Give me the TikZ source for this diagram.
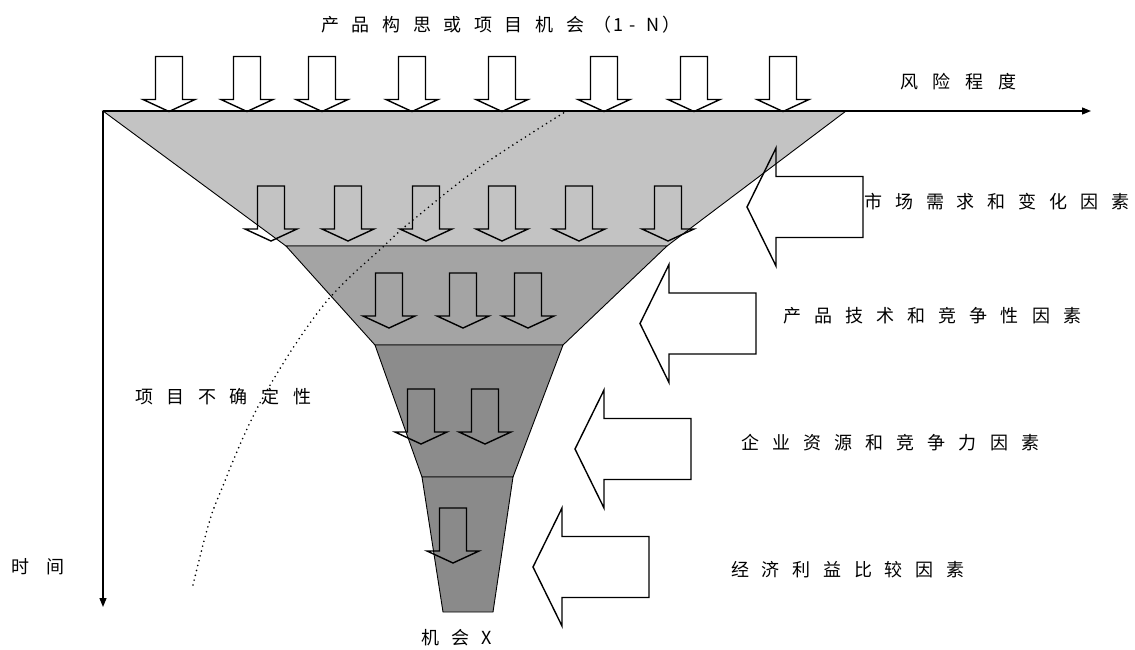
\documentclass[tikz,border=0pt]{standalone}
\usepackage{fontspec}
\newfontfamily\cjk{Noto Sans CJK SC}
\usetikzlibrary{arrows.meta}
\definecolor{bandA}{HTML}{C3C3C3}
\definecolor{bandB}{HTML}{A4A4A4}
\definecolor{bandC}{HTML}{8C8C8C}
\definecolor{bandD}{HTML}{8A8A8A}
\newlength\cjkpitch
\def\cjkloop#1{\ifx#1\relax\else\makebox[\cjkpitch][l]{#1}\expandafter\cjkloop\fi}
\newcommand\spaced[2]{\setlength\cjkpitch{#1}\cjkloop#2\relax}
\tikzset{
  lbl/.style={font=\cjk\fontsize{18}{18}\selectfont, inner sep=0pt, anchor=west},
  edge/.style={draw=black, line width=0.9pt, line join=miter},
  axis/.style={draw=black, line width=1.3pt, -{Triangle[length=9pt,width=7pt]}},
  blk/.style={draw=black, line width=1.4pt, line join=miter},
  uncert/.style={draw=black, line width=1.8pt, line cap=round, dash pattern=on 0pt off 5pt},
  pics/downarr/.style={code={\draw[blk] (-13.5,0) -- (13.5,0) -- (13.5,43) -- (26,43) -- (0,55) -- (-26,43) -- (-13.5,43) -- cycle;}},
  pics/leftarr/.style={code={\draw[blk] (0,0) -- (29,-59) -- (29,-30.5) -- (116,-30.5) -- (116,30.5) -- (29,30.5) -- (29,59) -- cycle;}}
}
\begin{document}
\begin{tikzpicture}[x=1pt,y=-1pt]
\useasboundingbox (0,0) rectangle (1135,649);
% funnel bands
\filldraw[edge, fill=bandA] (103,111) -- (846,111) -- (667,246) -- (286,246) -- cycle;
\filldraw[edge, fill=bandB] (286,246) -- (667,246) -- (563,345) -- (375,345) -- cycle;
\filldraw[edge, fill=bandC] (375,345) -- (563,345) -- (513,477) -- (422,477) -- cycle;
\filldraw[edge, fill=bandD] (422,477) -- (513,477) -- (493,612) -- (443,612) -- cycle;
% uncertainty curve
\draw[uncert] plot[smooth, tension=0.6] coordinates {(193,585) (207,530) (220,493) (260,403) (322,307) (385,245) (413,220) (480,167) (565,112)};
% axes
\coordinate (O) at (103,111);
\coordinate (xend) at (1091,111);
\coordinate (yend) at (103,607);
\draw[axis] (O) -- (xend);
\draw[axis] (O) -- (yend);
% top row arrows
\foreach \cx in {169,247,322,412,502,604,694,783} \pic at (\cx,56.5) {downarr};
% band arrows
\foreach \cx in {271,348,426,502,579,668} \pic at (\cx,186) {downarr};
\foreach \cx in {389,463,528} \pic at (\cx,273) {downarr};
\foreach \cx in {421,485} \pic at (\cx,389) {downarr};
\pic at (453,508) {downarr};
% side factor arrows
\pic at (747,207) {leftarr};
\pic at (640,323.5) {leftarr};
\pic at (575,449) {leftarr};
\pic at (533,567) {leftarr};
% labels
\node[lbl] (title) at (321,25) {\spaced{30.6pt}{产品构思或项目机会}};
\node[lbl] (titlen) at (593,25) {（\hspace{2pt}\spaced{16.5pt}{1-N}）};
\node[lbl] (risk) at (900,82) {\spaced{32.7pt}{风险程度}};
\node[lbl] (f1) at (864,202) {\spaced{30.9pt}{市场需求和变化因素}};
\node[lbl] (f2) at (783,316) {\spaced{31.1pt}{产品技术和竞争性因素}};
\node[lbl] (f3) at (741,443) {\spaced{31.1pt}{企业资源和竞争力因素}};
\node[lbl] (f4) at (731,570) {\spaced{30.7pt}{经济利益比较因素}};
\node[lbl] (unc) at (135,397) {\spaced{31.6pt}{项目不确定性}};
\node[lbl] (time) at (11,567) {\spaced{35pt}{时间}};
\node[lbl] (chance) at (421,638) {\spaced{30pt}{机会X}};
\end{tikzpicture}
\end{document}
